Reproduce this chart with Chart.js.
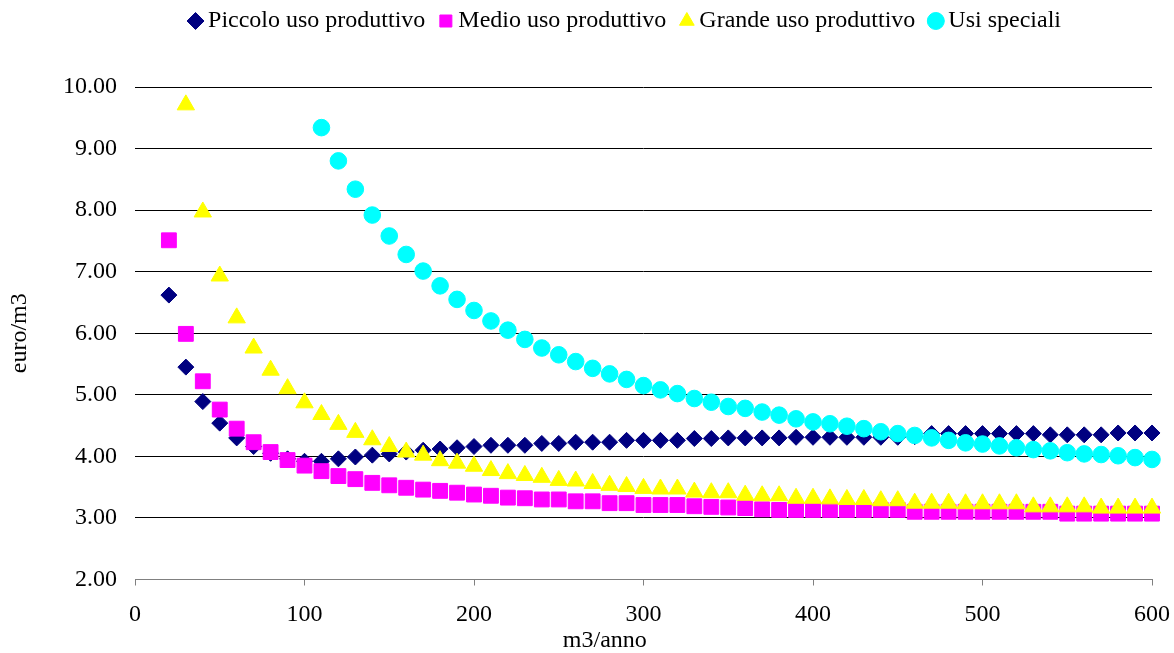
<!DOCTYPE html>
<html>
<head>
<meta charset="utf-8">
<script src="https://cdn.jsdelivr.net/npm/chart.js@4"></script>
<style>
  html, body { margin: 0; padding: 0; background: #fff; }
  #wrap { width: 1174px; height: 653px; position: relative; }
</style>
</head>
<body>
<div id="wrap"><canvas id="chart"></canvas></div>
<script>
// m3/anno values for each series
var X_PICCOLO = [20, 30, 40, 50, 60, 70, 80, 90, 100, 110, 120, 130, 140, 150, 160, 170, 180, 190, 200,
  210, 220, 230, 240, 250, 260, 270, 280, 290, 300, 310, 320, 330, 340, 350, 360, 370, 380, 390, 400,
  410, 420, 430, 440, 450, 460, 470, 480, 490, 500, 510, 520, 530, 540, 550, 560, 570, 580, 590, 600];
var X_MEDIO = X_PICCOLO;
var X_GRANDE = [30, 40, 50, 60, 70, 80, 90, 100, 110, 120, 130, 140, 150, 160, 170, 180, 190, 200,
  210, 220, 230, 240, 250, 260, 270, 280, 290, 300, 310, 320, 330, 340, 350, 360, 370, 380, 390, 400,
  410, 420, 430, 440, 450, 460, 470, 480, 490, 500, 510, 520, 530, 540, 550, 560, 570, 580, 590, 600];
var X_SPECIALI = [110, 120, 130, 140, 150, 160, 170, 180, 190, 200,
  210, 220, 230, 240, 250, 260, 270, 280, 290, 300, 310, 320, 330, 340, 350, 360, 370, 380, 390, 400,
  410, 420, 430, 440, 450, 460, 470, 480, 490, 500, 510, 520, 530, 540, 550, 560, 570, 580, 590, 600];

// euro/m3
var PICCOLO = [6.62, 5.45, 4.89, 4.54, 4.30, 4.16, 4.05, 3.96, 3.92, 3.92, 3.96, 3.99, 4.02, 4.04, 4.07,
  4.10, 4.12, 4.14, 4.16, 4.18, 4.18, 4.18, 4.21, 4.21, 4.23, 4.23, 4.23, 4.26, 4.26, 4.26, 4.26, 4.29,
  4.29, 4.30, 4.30, 4.30, 4.30, 4.31, 4.31, 4.31, 4.31, 4.31, 4.31, 4.31, 4.32, 4.37, 4.37, 4.37, 4.37,
  4.37, 4.37, 4.37, 4.35, 4.35, 4.35, 4.35, 4.38, 4.38, 4.38];
var MEDIO = [7.51, 5.99, 5.22, 4.76, 4.45, 4.23, 4.07, 3.94, 3.85, 3.76, 3.68, 3.63, 3.57, 3.53, 3.49,
  3.46, 3.44, 3.41, 3.38, 3.36, 3.33, 3.32, 3.30, 3.30, 3.27, 3.27, 3.24, 3.24, 3.21, 3.21, 3.21, 3.19,
  3.18, 3.17, 3.16, 3.14, 3.13, 3.13, 3.13, 3.13, 3.13, 3.13, 3.13, 3.13, 3.10, 3.10, 3.10, 3.10, 3.10,
  3.10, 3.10, 3.10, 3.10, 3.07, 3.07, 3.07, 3.07, 3.07, 3.07];
var GRANDE = [9.71, 7.97, 6.93, 6.25, 5.76, 5.40, 5.10, 4.87, 4.68, 4.52, 4.39, 4.27, 4.16, 4.07, 4.02,
  3.93, 3.89, 3.84, 3.77, 3.72, 3.69, 3.66, 3.61, 3.60, 3.56, 3.53, 3.51, 3.48, 3.47, 3.47, 3.42, 3.41,
  3.41, 3.37, 3.36, 3.36, 3.32, 3.32, 3.31, 3.30, 3.30, 3.28, 3.28, 3.24, 3.24, 3.24, 3.23, 3.23, 3.23,
  3.23, 3.18, 3.18, 3.18, 3.18, 3.16, 3.16, 3.16, 3.16];
var SPECIALI = [9.34, 8.80, 8.34, 7.92, 7.58, 7.28, 7.01, 6.77, 6.55, 6.37, 6.20, 6.05, 5.90, 5.76, 5.65,
  5.54, 5.43, 5.34, 5.25, 5.15, 5.08, 5.02, 4.94, 4.88, 4.81, 4.78, 4.72, 4.67, 4.61, 4.56, 4.53, 4.49,
  4.45, 4.40, 4.37, 4.34, 4.30, 4.26, 4.22, 4.20, 4.17, 4.14, 4.11, 4.09, 4.06, 4.04, 4.03, 4.01, 3.98,
  3.95];

var SERIES_NAMES = ["Piccolo uso produttivo", "Medio uso produttivo", "Grande uso produttivo", "Usi speciali"];
var X_TICKS = [0, 100, 200, 300, 400, 500, 600];
var Y_TICKS = [2, 3, 4, 5, 6, 7, 8, 9, 10];
var X_TITLE = "m3/anno";
var Y_TITLE = "euro/m3";

var FONT = "Liberation Serif";

function pairs(xs, ys) {
  return ys.map(function (y, i) { return { x: xs[i], y: y }; });
}

function series(label, xs, ys, color, style, radius, order) {
  return {
    label: label,
    data: pairs(xs, ys),
    backgroundColor: color,
    borderColor: color,
    borderWidth: 1,
    pointStyle: style,
    pointRadius: radius,
    pointHoverRadius: radius,
    showLine: false,
    clip: false,
    order: order,
  };
}

// legend needs extra room below it, and sits a little left and up
var legendSpace = {
  id: "legendSpace",
  beforeInit: function (chart) {
    var fit = chart.legend.fit;
    chart.legend.fit = function () {
      fit.bind(chart.legend)();
      this.height += 33;
    };
  },
  afterLayout: function (chart) {
    chart.legend.left -= 15.5;
    chart.legend.right -= 15.5;
    chart.legend.top -= 11;
  },
};

// x axis title sits a bit left of centre in the original
var xTitle = {
  id: "xTitle",
  afterDraw: function (chart) {
    var ctx = chart.ctx;
    var a = chart.chartArea;
    ctx.save();
    ctx.font = "24px '" + FONT + "'";
    ctx.fillStyle = "#000";
    ctx.textAlign = "center";
    ctx.textBaseline = "middle";
    ctx.fillText(X_TITLE, a.left + (a.right - a.left) * 0.462, chart.height - 12);
    ctx.restore();
  },
};

Chart.defaults.font.family = FONT;
Chart.defaults.color = "#000";

new Chart(document.getElementById("chart"), {
  type: "scatter",
  data: {
    datasets: [
      series(SERIES_NAMES[0], X_PICCOLO, PICCOLO, "#000080", "rectRot", 8, 4),
      series(SERIES_NAMES[1], X_MEDIO, MEDIO, "#FF00FF", "rect", 10.5, 3),
      series(SERIES_NAMES[2], X_GRANDE, GRANDE, "#FFFF00", "triangle", 10, 2),
      series(SERIES_NAMES[3], X_SPECIALI, SPECIALI, "#00FFFF", "circle", 8.3, 1),
    ],
  },
  options: {
    responsive: true,
    maintainAspectRatio: false,
    animation: false,
    layout: { autoPadding: false, padding: { left: 0, right: 22, top: 0, bottom: 0 } },
    plugins: {
      legend: {
        position: "top",
        fullSize: false,
        labels: {
          usePointStyle: true,
          boxWidth: 1,
          boxHeight: 12,
          padding: 20,
          font: { size: 24, family: FONT },
          color: "#000",
          sort: function (a, b) { return a.datasetIndex - b.datasetIndex; },
        },
      },
      tooltip: { enabled: false },
    },
    scales: {
      x: {
        type: "linear",
        min: 0,
        max: 600,
        afterBuildTicks: function (axis) {
          axis.ticks = X_TICKS.map(function (v) { return { value: v }; });
        },
        afterFit: function (axis) {
          axis.paddingLeft = 0;
          axis.paddingRight = 0;
          axis.height = 73.5;
        },
        grid: {
          drawOnChartArea: false,
          drawTicks: true,
          tickLength: 6,
          color: "#808080",
        },
        border: { display: true, color: "#808080", width: 1 },
        ticks: {
          padding: 15,
          maxRotation: 0,
          font: { size: 24, family: FONT },
          color: "#000",
        },
        title: { display: false },
      },
      y: {
        type: "linear",
        min: 2,
        max: 10,
        afterBuildTicks: function (axis) {
          axis.ticks = Y_TICKS.map(function (v) { return { value: v }; });
        },
        afterFit: function (axis) {
          axis.width = 135;
        },
        grid: {
          drawTicks: false,
          color: function (ctx) {
            return ctx.tick && ctx.tick.value === 2 ? "rgba(0,0,0,0)" : "#000";
          },
          lineWidth: 1,
        },
        border: { display: false },
        ticks: {
          padding: 18,
          font: { size: 24, family: FONT },
          color: "#000",
          callback: function (v) { return Number(v).toFixed(2); },
        },
        title: {
          display: true,
          text: Y_TITLE,
          font: { size: 24, family: FONT, lineHeight: 1 },
          color: "#000",
          padding: { top: 8, bottom: 13 },
        },
      },
    },
  },
  plugins: [legendSpace, xTitle],
});
</script>
</body>
</html>
